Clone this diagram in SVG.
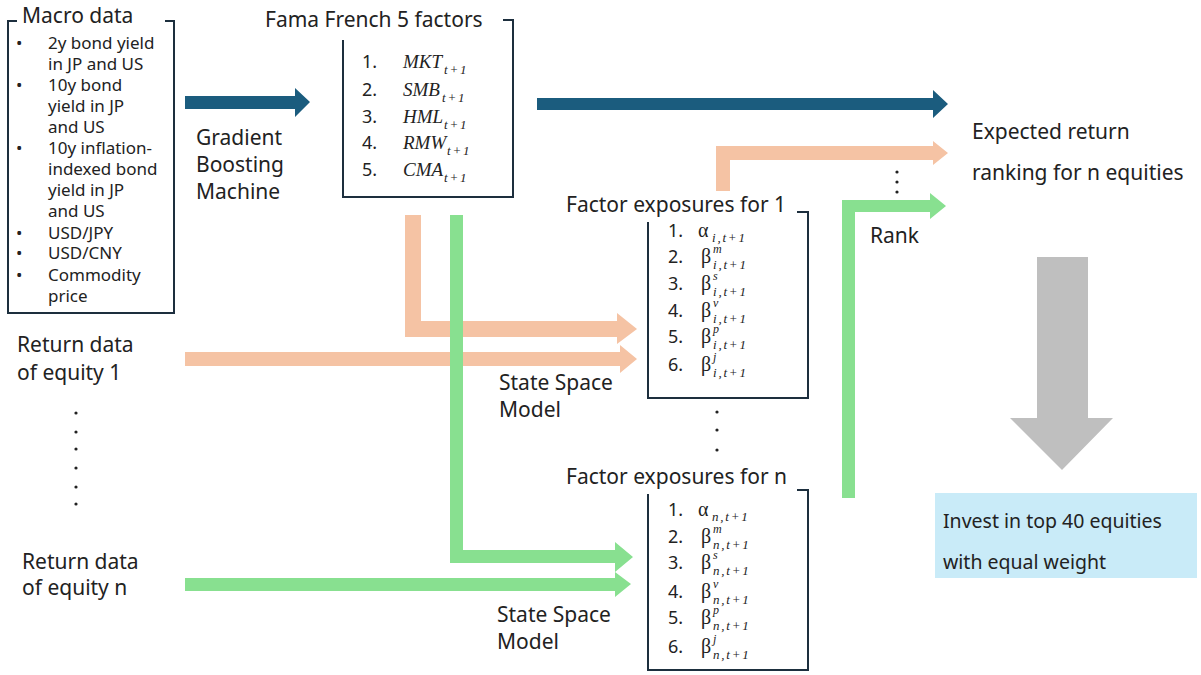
<svg xmlns="http://www.w3.org/2000/svg" width="1201" height="675" viewBox="0 0 1201 675">
<style>
.t{font-family:"Noto Sans","Liberation Sans",sans-serif;font-size:21px;fill:#222}
.iv{font-size:19.5px}
.s{font-family:"Noto Sans","Liberation Sans",sans-serif;font-size:17px;fill:#222}
.n{font-family:"Noto Sans","Liberation Sans",sans-serif;font-size:18px;fill:#222}
.m{font-family:"Liberation Serif",serif;font-style:italic;font-size:19px;fill:#222}
.mx{font-family:"Liberation Serif",serif;fill:#222}
.g{font-style:normal;font-size:20px;letter-spacing:0}
.sb{font-style:italic;font-size:13px;letter-spacing:1.8px}
.sp{font-style:italic;font-size:12px;letter-spacing:1.5px}
.box{fill:none;stroke:#1d2f3e;stroke-width:2}
</style>
<g id="connectors">
<polygon fill="#1b5c7e" points="185,96 295,96 295,88 310,102 295,117 295,109 185,109"/>
<polygon fill="#1b5c7e" points="537,98 933,98 933,90 948,104 933,118 933,110 537,110"/>
<polygon fill="#f5c3a4" points="716,191 716,146 933,146 933,141 948,153 933,165 933,160 730,160 730,191"/>
<polygon fill="#88e090" points="842,498 842,200 930,200 930,193 946,206 930,219 930,212 855,212 855,498"/>
<polygon fill="#f5c3a4" points="405,215 421,215 421,321 617,321 617,313 637,329 617,344 617,337 405,337"/>
<polygon fill="#f5c3a4" points="185,352 620,352 620,345 637,359 620,373 620,366 185,366"/>
<polygon fill="#88e090" points="450,215 463,215 463,550 615,550 615,542 633,557 615,572 615,563 450,563"/>
<polygon fill="#88e090" points="185,578 615,578 615,572 631,584 615,597 615,591 185,591"/>
<polygon fill="#bfbfbf" points="1037,257 1088,257 1088,418 1113,418 1062,470 1010,418 1037,418"/>
</g>
<g id="macro">
<path class="box" d="M17,21 H8 V313 H174 V21 H165"/>
<text class="t" x="22" y="23">Macro data</text>
<g class="s">
<text x="16" y="49">•</text><text x="48" y="49">2y bond yield</text>
<text x="48" y="70">in JP and US</text>
<text x="16" y="91">•</text><text x="48" y="91">10y bond</text>
<text x="48" y="112">yield in JP</text>
<text x="48" y="133">and US</text>
<text x="16" y="154">•</text><text x="48" y="154">10y inflation-</text>
<text x="48" y="175">indexed bond</text>
<text x="48" y="196">yield in JP</text>
<text x="48" y="217">and US</text>
<text x="16" y="239">•</text><text x="48" y="239">USD/JPY</text>
<text x="16" y="259">•</text><text x="48" y="259">USD/CNY</text>
<text x="16" y="281">•</text><text x="48" y="281">Commodity</text>
<text x="48" y="302">price</text>
</g>
</g>
<g id="gbm">
<text class="t" x="196" y="145">Gradient</text>
<text class="t" x="196" y="172">Boosting</text>
<text class="t" x="196" y="199">Machine</text>
</g>
<g id="ff5">
<path class="box" d="M343,40 V197 H513 V20 H503"/>
<text class="t" x="265" y="27">Fama French 5 factors</text>
<text class="n" x="362" y="68">1.</text><text class="m" x="403" y="68">MKT<tspan class="sb" x="444" y="74">t+1</tspan></text>
<text class="n" x="362" y="96">2.</text><text class="m" x="403" y="96">SMB<tspan class="sb" x="442" y="102">t+1</tspan></text>
<text class="n" x="362" y="123">3.</text><text class="m" x="403" y="123">HML<tspan class="sb" x="444" y="129">t+1</tspan></text>
<text class="n" x="362" y="149">4.</text><text class="m" x="403" y="149">RMW<tspan class="sb" x="447" y="155">t+1</tspan></text>
<text class="n" x="362" y="176">5.</text><text class="m" x="403" y="176">CMA<tspan class="sb" x="444" y="182">t+1</tspan></text>
</g>
<g id="exp1">
<path class="box" d="M648,222 V398 H808 V212 H797"/>
<text class="t" x="566" y="212">Factor exposures for 1</text>
<text class="n" x="668" y="237">1.</text>
<text class="n" x="668" y="263">2.</text>
<text class="n" x="668" y="290">3.</text>
<text class="n" x="668" y="317">4.</text>
<text class="n" x="668" y="343">5.</text>
<text class="n" x="668" y="371">6.</text>
<text class="mx"><tspan class="g" x="698" y="237">α</tspan><tspan class="sb" x="712" y="242">i,t+1</tspan><tspan class="g" x="701" y="263">β</tspan><tspan class="sp" x="713" y="253">m</tspan><tspan class="sb" x="713" y="269">i,t+1</tspan><tspan class="g" x="701" y="290">β</tspan><tspan class="sp" x="713" y="280">s</tspan><tspan class="sb" x="713" y="296">i,t+1</tspan><tspan class="g" x="701" y="317">β</tspan><tspan class="sp" x="713" y="307">v</tspan><tspan class="sb" x="713" y="323">i,t+1</tspan><tspan class="g" x="701" y="343">β</tspan><tspan class="sp" x="713" y="333">p</tspan><tspan class="sb" x="713" y="349">i,t+1</tspan><tspan class="g" x="701" y="371">β</tspan><tspan class="sp" x="713" y="361">j</tspan><tspan class="sb" x="713" y="377">i,t+1</tspan></text>
</g>
<g id="expn">
<path class="box" d="M648,494 V670 H808 V490 H797"/>
<text class="t" x="566" y="484">Factor exposures for n</text>
<text class="n" x="668" y="516">1.</text>
<text class="n" x="668" y="543">2.</text>
<text class="n" x="668" y="569">3.</text>
<text class="n" x="668" y="598">4.</text>
<text class="n" x="668" y="624">5.</text>
<text class="n" x="668" y="653">6.</text>
<text class="mx"><tspan class="g" x="698" y="516">α</tspan><tspan class="sb" x="712" y="521">n,t+1</tspan><tspan class="g" x="701" y="543">β</tspan><tspan class="sp" x="713" y="533">m</tspan><tspan class="sb" x="713" y="549">n,t+1</tspan><tspan class="g" x="701" y="569">β</tspan><tspan class="sp" x="713" y="559">s</tspan><tspan class="sb" x="713" y="575">n,t+1</tspan><tspan class="g" x="701" y="598">β</tspan><tspan class="sp" x="713" y="588">v</tspan><tspan class="sb" x="713" y="604">n,t+1</tspan><tspan class="g" x="701" y="624">β</tspan><tspan class="sp" x="713" y="614">p</tspan><tspan class="sb" x="713" y="630">n,t+1</tspan><tspan class="g" x="701" y="653">β</tspan><tspan class="sp" x="713" y="643">j</tspan><tspan class="sb" x="713" y="659">n,t+1</tspan></text>
</g>
<g id="ret1">
<text class="t" x="17" y="352">Return data</text>
<text class="t" x="17" y="380">of equity 1</text>
</g>
<g id="retn">
<text class="t" x="22" y="569">Return data</text>
<text class="t" x="22" y="595">of equity n</text>
</g>
<g id="dots" fill="#222">
<circle cx="76" cy="413" r="1.6"/><circle cx="76" cy="432" r="1.6"/><circle cx="76" cy="449" r="1.6"/><circle cx="76" cy="468" r="1.6"/><circle cx="76" cy="487" r="1.6"/><circle cx="76" cy="504" r="1.6"/>
<circle cx="717" cy="412" r="1.6"/><circle cx="717" cy="430" r="1.6"/><circle cx="717" cy="450" r="1.6"/>
<circle cx="897" cy="172" r="1.6"/><circle cx="897" cy="182" r="1.6"/><circle cx="897" cy="192" r="1.6"/>
</g>
<g id="ssm1">
<text class="t" x="499" y="390">State Space</text>
<text class="t" x="499" y="417">Model</text>
</g>
<g id="ssmn">
<text class="t" x="497" y="622">State Space</text>
<text class="t" x="497" y="649">Model</text>
</g>
<g id="expected">
<text class="t" x="972" y="139">Expected return</text>
<text class="t" x="972" y="180">ranking for n equities</text>
</g>
<g id="rank"><text class="t" x="870" y="243">Rank</text></g>
<g id="invest">
<rect x="935" y="493" width="262" height="85" fill="#c9ebf8"/>
<text class="t iv" x="943" y="528">Invest in top 40 equities</text>
<text class="t iv" x="943" y="569">with equal weight</text>
</g>
</svg>
